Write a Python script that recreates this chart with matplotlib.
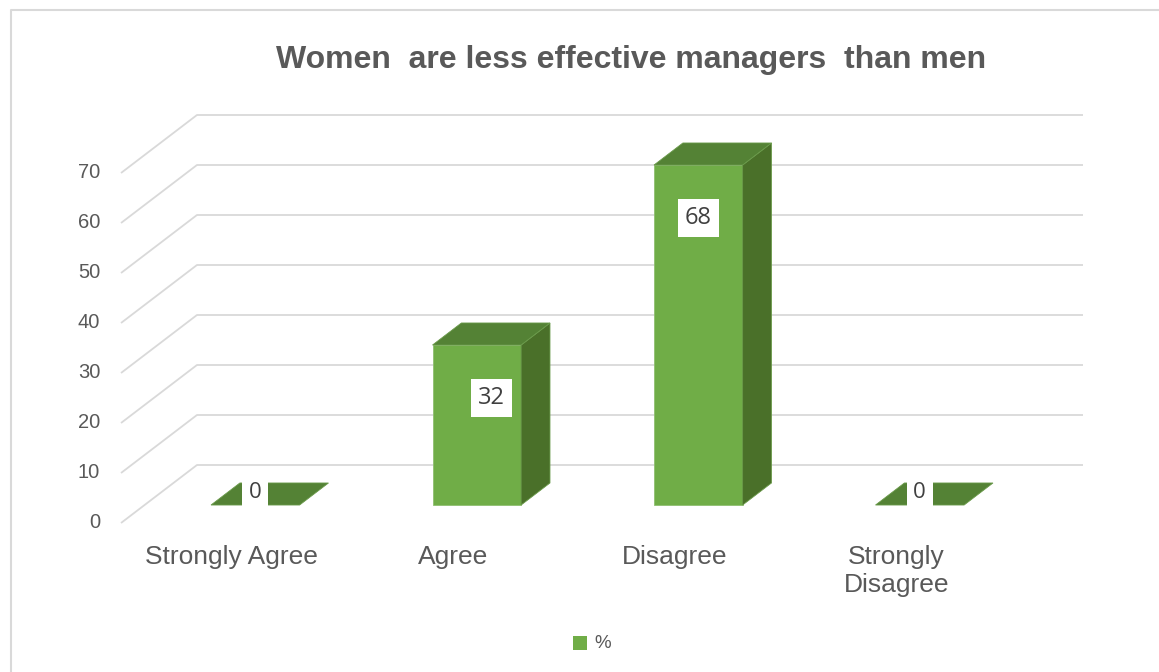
import numpy as np
import matplotlib.pyplot as plt
from matplotlib.patches import Polygon, Rectangle

# datos de la encuesta
categorias = ['Strongly Agree', 'Agree', 'Disagree', 'Strongly\nDisagree']
porcentajes = [0, 32, 68, 0]
ticks_y = [0, 10, 20, 30, 40, 50, 60, 70]
titulo = 'Women  are less effective managers  than men'
serie = '%'

# colores de las caras de la barra
verde_frente = '#70ad47'
verde_arriba = '#548235'
verde_lado = '#4a7029'
gris_texto = '#595959'
gris_rejilla = '#d9d9d9'

# profundidad de la vista oblicua (en unidades de datos)
prof_x = 0.343
prof_y = 11.6
ancho = 0.40          # ancho de barra (fraccion de la categoria)
z0, z1 = 0.31, 0.69   # barra entre estas profundidades

plt.rcParams['font.family'] = ['Liberation Sans', 'DejaVu Sans']

fig = plt.figure(figsize=(11.59, 6.72), dpi=100)
ax = fig.add_axes([121 / 1159, 149 / 672, 962 / 1159, 408 / 672])
ax.set_xlim(-0.5, 3.5 + prof_x)
ax.set_ylim(0, 70 + prof_y)
ax.axis('off')


def punto(x, v, z):
    # proyecta (categoria, valor, profundidad) al plano del eje
    return (x + prof_x * z, v + prof_y * z)


# pared del fondo y lado izquierdo
for t in ticks_y:
    xs = [punto(-0.5, t, 0)[0], punto(-0.5, t, 1)[0], 3.5 + prof_x]
    ys = [punto(-0.5, t, 0)[1], punto(-0.5, t, 1)[1], punto(-0.5, t, 1)[1]]
    ax.plot(xs, ys, color=gris_rejilla, lw=1.3, clip_on=False, zorder=1,
            solid_capstyle='butt')
    ax.annotate(str(t), xy=(-0.5, t), xytext=(-15, 0), textcoords='offset points',
                ha='right', va='center', fontsize=14.5, color=gris_texto)

# barras 3D
for i, v in enumerate(porcentajes):
    x0, x1 = i - ancho / 2, i + ancho / 2
    frente = [punto(x0, 0, z0), punto(x1, 0, z0), punto(x1, v, z0), punto(x0, v, z0)]
    lado = [punto(x1, 0, z0), punto(x1, 0, z1), punto(x1, v, z1), punto(x1, v, z0)]
    arriba = [punto(x0, v, z0), punto(x1, v, z0), punto(x1, v, z1), punto(x0, v, z1)]
    if v > 0:
        ax.add_patch(Polygon(frente, closed=True, fc=verde_frente, ec='#8fbf70', lw=0.6, zorder=3))
        ax.add_patch(Polygon(lado, closed=True, fc=verde_lado, ec='#6a9a4a', lw=0.6, zorder=3))
    ax.add_patch(Polygon(arriba, closed=True, fc=verde_arriba, ec='#6a9a4a', lw=0.6, zorder=3))

# etiquetas de valor
ajuste_x = [0.0, 0.065, 0.0, 0.0]
fuente_num = ['Open Sans', 'DejaVu Sans']
for i, v in enumerate(porcentajes):
    if v > 0:
        pos = punto(i + ajuste_x[i], v, z0)
        ax.annotate(str(v), xy=pos, xytext=(0, -38), textcoords='offset points',
                    ha='center', va='center', fontsize=17, color='#404040',
                    family=fuente_num, zorder=5,
                    bbox=dict(boxstyle='square,pad=0.3', fc='white', ec='none'))
    else:
        pos = punto(i, v, (z0 + z1) / 2)
        ax.annotate(str(v), xy=pos, xytext=(-10.5, 1), textcoords='offset points',
                    ha='center', va='center', fontsize=16, color='#404040',
                    family=fuente_num, zorder=5,
                    bbox=dict(boxstyle='square,pad=0.3', fc='white', ec='none'))

# nombres de categoria
for i, c in enumerate(categorias):
    ax.annotate(c, xy=(i, 0), xytext=(0, -15.5), textcoords='offset points',
                ha='center', va='top', fontsize=19, color=gris_texto,
                linespacing=1.25)

# titulo y leyenda
fig.text(631 / 1159, 1 - 60 / 672, titulo, ha='center', va='center',
         fontsize=23, fontweight='bold', color=gris_texto)
fig.patches.append(Rectangle((573 / 1159, 1 - 650 / 672), 14 / 1159, 14 / 672,
                             transform=fig.transFigure, fc=verde_frente, ec='none'))
fig.text(594 / 1159, 1 - 643 / 672, serie, ha='left', va='center',
         fontsize=13.5, color=gris_texto)

# marco del grafico
fig.add_artist(plt.Line2D([11 / 1159, 11 / 1159, 1], [0, 1 - 10 / 672, 1 - 10 / 672],
                          transform=fig.transFigure, color='#d9d9d9', lw=1.5))

fig.savefig('out.png', dpi=100, facecolor='white')
